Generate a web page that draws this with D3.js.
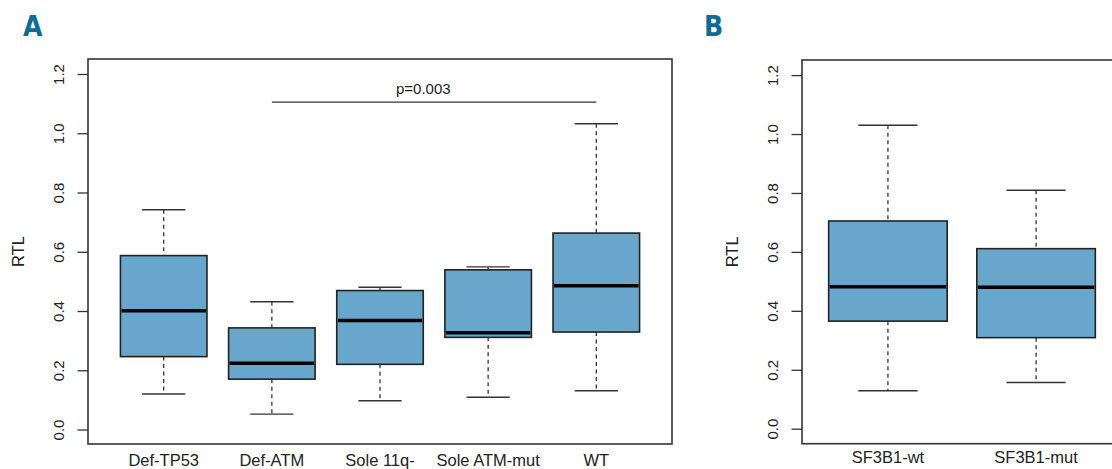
<!DOCTYPE html>
<html>
<head>
<meta charset="utf-8">
<script src="https://cdn.jsdelivr.net/npm/d3@7"></script>
<style>
  body { margin: 0; background: #fff; }
  text { font-family: "Liberation Sans", Arial, sans-serif; fill: #222; }
  .panel-label { font-family: "Liberation Sans Narrow", "DejaVu Sans Condensed", sans-serif; font-weight: bold; fill: #0b6d96; }
</style>
</head>
<body>
<script>
// panel A data (five-number summaries)
let groupsA = ["Def-TP53", "Def-ATM", "Sole 11q-", "Sole ATM-mut", "WT"]
let lowA  = [0.120, 0.052, 0.097, 0.109, 0.131]
let q1A   = [0.246, 0.170, 0.220, 0.311, 0.329]
let medA  = [0.401, 0.224, 0.368, 0.327, 0.485]
let q3A   = [0.587, 0.343, 0.469, 0.539, 0.663]
let highA = [0.742, 0.431, 0.480, 0.549, 1.032]

// panel B data
let groupsB = ["SF3B1-wt", "SF3B1-mut"]
let lowB  = [0.129, 0.157]
let q1B   = [0.365, 0.309]
let medB  = [0.482, 0.480]
let q3B   = [0.705, 0.611]
let highB = [1.030, 0.809]

let yTicks = [0.0, 0.2, 0.4, 0.6, 0.8, 1.0, 1.2]
let pValueText = "p=0.003"
let pValueY = 1.105
let pFrom = 2, pTo = 5

let svgWidth = 1112
let svgHeight = 469
let boxFill = "#68a6cc"

let svg = d3.select("body")
    .append("svg")
    .attr("width", svgWidth)
    .attr("height", svgHeight)

function boxPanel(opt) {
    let g = svg.append("g")
    let n = opt.groups.length
    // R style: 0.5..n+0.5 extended by 4%
    let ext = n * 0.04
    let x = d3.scaleLinear()
        .domain([0.5 - ext, n + 0.5 + ext])
        .range([opt.left, opt.right])
    let y = d3.scaleLinear()
        .domain([0, 1.2])
        .range([opt.y0, opt.y12])

    let boxW = x(1.8) - x(1)
    let capW = boxW / 2

    // frame
    g.append("rect")
        .attr("x", opt.left)
        .attr("y", opt.top)
        .attr("width", opt.right - opt.left)
        .attr("height", opt.bottom - opt.top)
        .attr("fill", "none")
        .attr("stroke", "#333")
        .attr("stroke-width", 1.6)

    // y axis
    let yAxis = d3.axisLeft(y)
        .tickValues(yTicks)
        .tickFormat(d3.format(".1f"))
        .tickSize(10.5)
        .tickSizeOuter(0)
    let ax = g.append("g")
        .attr("transform", "translate(" + opt.left + ",0)")
        .call(yAxis)
    ax.select(".domain").remove()
    ax.selectAll(".tick line").attr("stroke", "#333").attr("stroke-width", 1.3)
    ax.selectAll(".tick text")
        .attr("x", null).attr("dy", null)
        .attr("transform", "translate(" + (opt.tickLabelX - opt.left) + ",0) rotate(-90)")
        .attr("text-anchor", "middle")
        .style("font-size", "15px")
        .style("font-family", "'Liberation Sans', Arial, sans-serif")
        .attr("fill", "#222")

    // y title
    g.append("text")
        .attr("transform", "translate(" + opt.titleX + "," + ((opt.top + opt.bottom) / 2) + ") rotate(-90)")
        .attr("text-anchor", "middle")
        .style("font-size", "16.5px")
        .text("RTL")

    // x labels
    g.selectAll(".xlab")
        .data(opt.groups)
        .enter().append("text")
        .attr("class", "xlab")
        .attr("x", (d, i) => x(i + 1))
        .attr("y", opt.xLabelY)
        .attr("text-anchor", "middle")
        .style("font-size", "16.5px")
        .text(d => d)

    let idx = d3.range(n)
    let boxes = g.selectAll(".box")
        .data(idx)
        .enter().append("g")
        .attr("class", "box")

    // whiskers
    boxes.append("line")
        .attr("x1", i => x(i + 1)).attr("x2", i => x(i + 1))
        .attr("y1", i => y(opt.high[i])).attr("y2", i => y(opt.q3[i]))
        .attr("stroke", "#333").attr("stroke-width", 1.3)
        .attr("stroke-dasharray", "4,3.5")
    boxes.append("line")
        .attr("x1", i => x(i + 1)).attr("x2", i => x(i + 1))
        .attr("y1", i => y(opt.q1[i])).attr("y2", i => y(opt.low[i]))
        .attr("stroke", "#333").attr("stroke-width", 1.3)
        .attr("stroke-dasharray", "4,3.5")
    // caps
    boxes.append("line")
        .attr("x1", i => x(i + 1) - capW / 2).attr("x2", i => x(i + 1) + capW / 2)
        .attr("y1", i => y(opt.high[i])).attr("y2", i => y(opt.high[i]))
        .attr("stroke", "#333").attr("stroke-width", 1.4)
    boxes.append("line")
        .attr("x1", i => x(i + 1) - capW / 2).attr("x2", i => x(i + 1) + capW / 2)
        .attr("y1", i => y(opt.low[i])).attr("y2", i => y(opt.low[i]))
        .attr("stroke", "#333").attr("stroke-width", 1.4)
    // box
    boxes.append("rect")
        .attr("x", i => x(i + 1) - boxW / 2)
        .attr("y", i => y(opt.q3[i]))
        .attr("width", boxW)
        .attr("height", i => y(opt.q1[i]) - y(opt.q3[i]))
        .attr("fill", boxFill)
        .attr("stroke", "#222")
        .attr("stroke-width", 1.6)
    // median
    boxes.append("line")
        .attr("x1", i => x(i + 1) - boxW / 2 + 1).attr("x2", i => x(i + 1) + boxW / 2 - 1)
        .attr("y1", i => y(opt.med[i])).attr("y2", i => y(opt.med[i]))
        .attr("stroke", "#000").attr("stroke-width", 3.5)

    // panel letter
    svg.append("text")
        .attr("class", "panel-label")
        .attr("x", opt.letterX)
        .attr("y", 36)
        .style("font-size", "28px")
        .text(opt.letter)

    return { x: x, y: y, g: g }
}

let pA = boxPanel({
    letter: "A", letterX: 23,
    groups: groupsA, low: lowA, q1: q1A, med: medA, q3: q3A, high: highA,
    left: 88, right: 672, top: 59, bottom: 444,
    y0: 429.5, y12: 74,
    tickLabelX: 64, titleX: 24, xLabelY: 466
})

let pB = boxPanel({
    letter: "B", letterX: 704,
    groups: groupsB, low: lowB, q1: q1B, med: medB, q3: q3B, high: highB,
    left: 802, right: 1122, top: 60, bottom: 443.7,
    y0: 428.7, y12: 75.1,
    tickLabelX: 778, titleX: 738, xLabelY: 462.5
})

// significance bar in panel A
pA.g.append("line")
    .attr("x1", pA.x(pFrom)).attr("x2", pA.x(pTo))
    .attr("y1", pA.y(pValueY)).attr("y2", pA.y(pValueY))
    .attr("stroke", "#333").attr("stroke-width", 1.4)
pA.g.append("text")
    .attr("x", pA.x(3.4))
    .attr("y", pA.y(pValueY) - 8)
    .attr("text-anchor", "middle")
    .style("font-size", "15px")
    .text(pValueText)
</script>
</body>
</html>
